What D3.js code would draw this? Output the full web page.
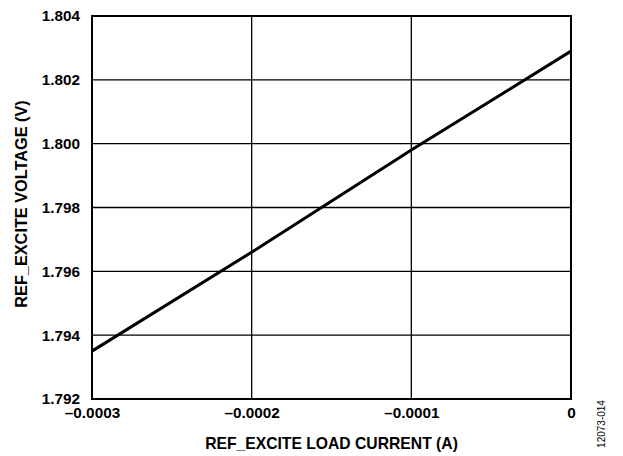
<!DOCTYPE html>
<html><head><meta charset="utf-8">
<script src="https://cdn.jsdelivr.net/npm/d3@7"></script>
<style>body{margin:0;background:#fff}svg{display:block}text{font-family:"Liberation Sans",Arial,sans-serif}</style>
</head><body>
<script>
const currentA = [-0.0003, -0.0002, -0.0001, 0];
const voltageV = [1.7935, 1.7966, 1.7998, 1.8029];
const xTicks = [-0.0003, -0.0002, -0.0001, 0];
const xTickLabels = ["–0.0003", "–0.0002", "–0.0001", "0"];
const yTicks = [1.792, 1.794, 1.796, 1.798, 1.800, 1.802, 1.804];
const yTickLabels = ["1.792", "1.794", "1.796", "1.798", "1.800", "1.802", "1.804"];

const W = 623, H = 456;
const m = {left: 92, right: 571, top: 16, bottom: 399};
const svg = d3.select("body").append("svg").attr("width", W).attr("height", H);
const x = d3.scaleLinear().domain([-0.0003, 0]).range([m.left, m.right]);
const y = d3.scaleLinear().domain([1.792, 1.804]).range([m.bottom, m.top]);

// grid
const g = svg.append("g");
g.selectAll("line.h").data(yTicks.slice(1, -1)).join("line")
  .attr("x1", m.left).attr("x2", m.right).attr("y1", d => y(d)).attr("y2", d => y(d))
  .attr("stroke", "#000").attr("stroke-width", 1.3);
g.selectAll("line.v").data(xTicks.slice(1, -1)).join("line")
  .attr("y1", m.top).attr("y2", m.bottom).attr("x1", d => x(d)).attr("x2", d => x(d))
  .attr("stroke", "#000").attr("stroke-width", 1.3);

// data line
svg.append("path").datum(currentA.map((c, i) => [c, voltageV[i]]))
  .attr("d", d3.line().x(d => x(d[0])).y(d => y(d[1])))
  .attr("fill", "none").attr("stroke", "#000").attr("stroke-width", 3);

// frame
svg.append("rect").attr("x", m.left).attr("y", m.top)
  .attr("width", m.right - m.left).attr("height", m.bottom - m.top)
  .attr("fill", "none").attr("stroke", "#000").attr("stroke-width", 2);

// y axis tick labels
const yAxis = d3.axisLeft(y).tickValues(yTicks).tickSize(0).tickPadding(12)
  .tickFormat((d, i) => yTickLabels[i]);
const ya = svg.append("g").attr("transform", `translate(${m.left},0)`).call(yAxis);
ya.select(".domain").remove();
ya.selectAll("text").attr("font-size", 15.3).attr("font-weight", "bold")
  .attr("font-family", "Liberation Sans, Arial, sans-serif").attr("fill", "#000");

// x axis tick labels
const xAxis = d3.axisBottom(x).tickValues(xTicks).tickSize(0).tickPadding(8)
  .tickFormat((d, i) => xTickLabels[i]);
const xa = svg.append("g").attr("transform", `translate(0,${m.bottom})`).call(xAxis);
xa.select(".domain").remove();
xa.selectAll("text").attr("font-size", 15.3).attr("font-weight", "bold")
  .attr("font-family", "Liberation Sans, Arial, sans-serif").attr("fill", "#000");

// titles
svg.append("text").attr("x", (m.left + m.right) / 2).attr("y", 448.5)
  .attr("text-anchor", "middle").attr("font-size", 15.7).attr("font-weight", "bold")
  .text("REF_EXCITE LOAD CURRENT (A)");
svg.append("text").attr("transform", `translate(27,204) rotate(-90)`)
  .attr("text-anchor", "middle").attr("font-size", 16.3).attr("font-weight", "bold")
  .text("REF_EXCITE VOLTAGE (V)");
svg.append("text").attr("transform", `translate(605,424) rotate(-90)`)
  .attr("text-anchor", "middle").attr("font-size", 10)
  .text("12073-014");
</script>
</body></html>
